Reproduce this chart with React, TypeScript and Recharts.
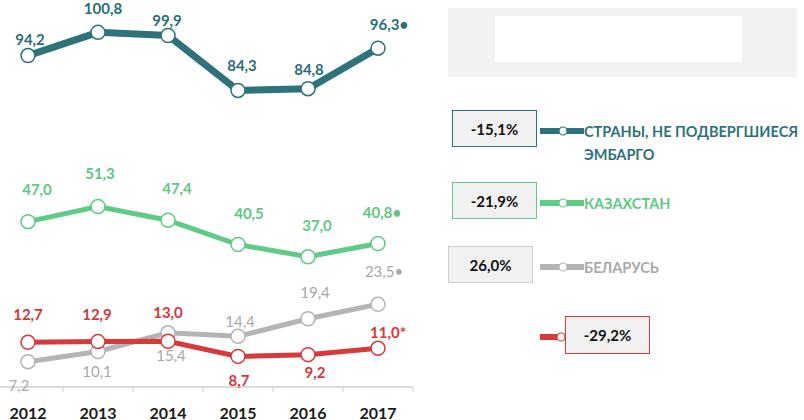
import React from "react";
import { ComposedChart, Line, XAxis, YAxis, LabelList } from "recharts";

const years = ["2012", "2013", "2014", "2015", "2016", "2017"];
const notEmbargo = [94.2, 100.8, 99.9, 84.3, 84.8, 96.3];
const kazakhstan = [47.0, 51.3, 47.4, 40.5, 37.0, 40.8];
const belarus = [7.2, 10.1, 15.4, 14.4, 19.4, 23.5];
const russia = [12.7, 12.9, 13.0, 8.7, 9.2, 11.0];

const lastMarks = { notEmbargo: "•", kazakhstan: "•", belarus: "•", russia: "*" };

const legendItems = [
  { key: "notEmbargo", change: "-15,1%", lines: ["СТРАНЫ, НЕ ПОДВЕРГШИЕСЯ", "ЭМБАРГО"] },
  { key: "kazakhstan", change: "-21,9%", lines: ["КАЗАХСТАН"] },
  { key: "belarus", change: "26,0%", lines: ["БЕЛАРУСЬ"] },
  { key: "russia", change: "-29,2%", lines: [] },
];

const COLORS: Record<string, string> = {
  notEmbargo: "#2d7379",
  kazakhstan: "#5fcb87",
  belarus: "#b4b4b4",
  russia: "#d83a3c",
};
const TEXT_COLORS: Record<string, string> = {
  notEmbargo: "#2b6f76",
  kazakhstan: "#62c684",
  belarus: "#a8a8a8",
  russia: "#d2393b",
};

// label offsets (dx, dy) from each point, per series
const LABEL_OFFSETS: Record<string, number[][]> = {
  notEmbargo: [[2, -17], [5, -24], [-1, -16], [4, -25], [1, -20], [11, -24]],
  kazakhstan: [[9, -33], [2, -34], [9, -32], [11, -32], [9, -32], [4, -31]],
  belarus: [[-9, 23], [-1, 20], [3, 22], [2, -15], [7, -27], [6, -33]],
  russia: [[0, -28], [-1, -28], [0, -29], [1, 24], [7, 17], [10, -16]],
};

const FONT = "Lato, 'Open Sans', sans-serif";
const CHART_W = 430;
const PLOT_W = 420;
const HALF_BAND = PLOT_W / years.length / 2;

const data = years.map((y, i) => ({
  year: y,
  notEmbargo: notEmbargo[i],
  kazakhstan: kazakhstan[i],
  belarus: belarus[i],
  russia: russia[i],
}));

const fmt = (v: number) => v.toFixed(1).replace(".", ",");

function makeLabel(key: string) {
  return (props: any) => {
    const { x, y, value, index } = props;
    const [dx, dy] = LABEL_OFFSETS[key][index];
    const suffix = index === years.length - 1 ? (lastMarks as any)[key] : "";
    return (
      <text
        x={x + dx}
        y={y + dy}
        textAnchor="middle"
        dominantBaseline="central"
        fill={TEXT_COLORS[key]}
        fontFamily={FONT}
        fontSize={15}
        fontWeight={key === "belarus" ? 400 : 700}
      >
        {fmt(value)}
        {suffix}
      </text>
    );
  };
}

function makeDot(key: string) {
  return (props: any) => {
    const { cx, cy, index } = props;
    if (cx == null || cy == null) return <g key={index} />;
    return <circle key={index} cx={cx} cy={cy} r={7} fill="#fff" stroke={COLORS[key]} strokeWidth={1.5} />;
  };
}

const YearTick = (props: any) => {
  const { x, y, payload } = props;
  return (
    <g>
      <line x1={x + HALF_BAND} x2={x + HALF_BAND} y1={y - 8} y2={y - 3} stroke="#cfcfcf" />
      <text
        x={x}
        y={y + 17}
        textAnchor="middle"
        dominantBaseline="central"
        fill="#1b1b1b"
        fontFamily={FONT}
        fontSize={16}
        fontWeight={700}
      >
        {payload.value}
      </text>
    </g>
  );
};

const series = ["notEmbargo", "kazakhstan", "belarus", "russia"];
const widths: Record<string, number> = { notEmbargo: 7, kazakhstan: 5, belarus: 5, russia: 5 };

function LegendSwatch({ color, short }: { color: string; short?: boolean }) {
  return (
    <svg width={short ? 26 : 44} height={12} style={{ display: "block" }}>
      <line x1={1} x2={short ? 20 : 43} y1={6} y2={6} stroke={color} strokeWidth={6} strokeLinecap="round" />
      <circle cx={short ? 21 : 23} cy={6} r={4} fill="#fff" stroke={color} strokeWidth={1.2} />
    </svg>
  );
}

function Box({ text, color, left, top, width = 85, height = 37 }: any) {
  return (
    <div
      style={{
        position: "absolute",
        left,
        top,
        width,
        height,
        boxSizing: "border-box",
        background: "#f1f1f1",
        border: `1.5px solid ${color}`,
        display: "flex",
        alignItems: "center",
        justifyContent: "center",
        fontFamily: FONT,
        fontWeight: 700,
        fontSize: 15,
        color: "#111",
      }}
    >
      {text}
    </div>
  );
}

export default function App() {
  const legendTops = [110, 182, 246];
  return (
    <div style={{ position: "absolute", left: 0, top: 0, width: 804, height: 420, background: "#fff", overflow: "hidden" }}>
      <div style={{ position: "absolute", left: -7, top: 0 }}>
        <ComposedChart width={CHART_W} height={420} data={data} margin={{ top: 0, right: CHART_W - PLOT_W, left: 0, bottom: 0 }}>
          <XAxis
            dataKey="year"
            scale="band"
            height={33}
            axisLine={{ stroke: "#d0d0d0", strokeWidth: 1.5 }}
            tickLine={false}
            tick={<YearTick />}
            interval={0}
          />
          <YAxis hide domain={[0, 110]} />
          {series.map((key) => (
            <Line
              key={key}
              dataKey={key}
              type="linear"
              stroke={COLORS[key]}
              strokeWidth={widths[key]}
              dot={makeDot(key)}
              activeDot={false}
              isAnimationActive={false}
            >
              <LabelList dataKey={key} content={makeLabel(key)} />
            </Line>
          ))}
        </ComposedChart>
      </div>

      {/* top right placeholder panel */}
      <div style={{ position: "absolute", left: 448, top: 8, width: 349, height: 69, background: "#f2f2f2" }} />
      <div style={{ position: "absolute", left: 495, top: 16, width: 247, height: 46, background: "#fff" }} />

      {legendItems.slice(0, 3).map((item, i) => (
        <React.Fragment key={item.key}>
          <Box text={item.change} color={item.key === "belarus" ? "#cfcfcf" : COLORS[item.key]} left={item.key === "belarus" ? 448 : 452} top={legendTops[i]} />
          <div style={{ position: "absolute", left: 540, top: legendTops[i] + 15 }}>
            <LegendSwatch color={COLORS[item.key]} />
          </div>
          <div
            style={{
              position: "absolute",
              left: 584,
              top: legendTops[i] + 10,
              fontFamily: FONT,
              fontWeight: 700,
              fontSize: 14.5,
              lineHeight: "23px",
              color: item.key === "belarus" ? "#a9a9a9" : COLORS[item.key],
              whiteSpace: "nowrap",
            }}
          >
            {item.lines.map((l) => (
              <div key={l}>{l}</div>
            ))}
          </div>
        </React.Fragment>
      ))}

      <div style={{ position: "absolute", left: 540, top: 331 }}>
        <LegendSwatch color={COLORS.russia} short />
      </div>
      <Box text={legendItems[3].change} color={COLORS.russia} left={565} top={316} height={38} />
    </div>
  );
}
